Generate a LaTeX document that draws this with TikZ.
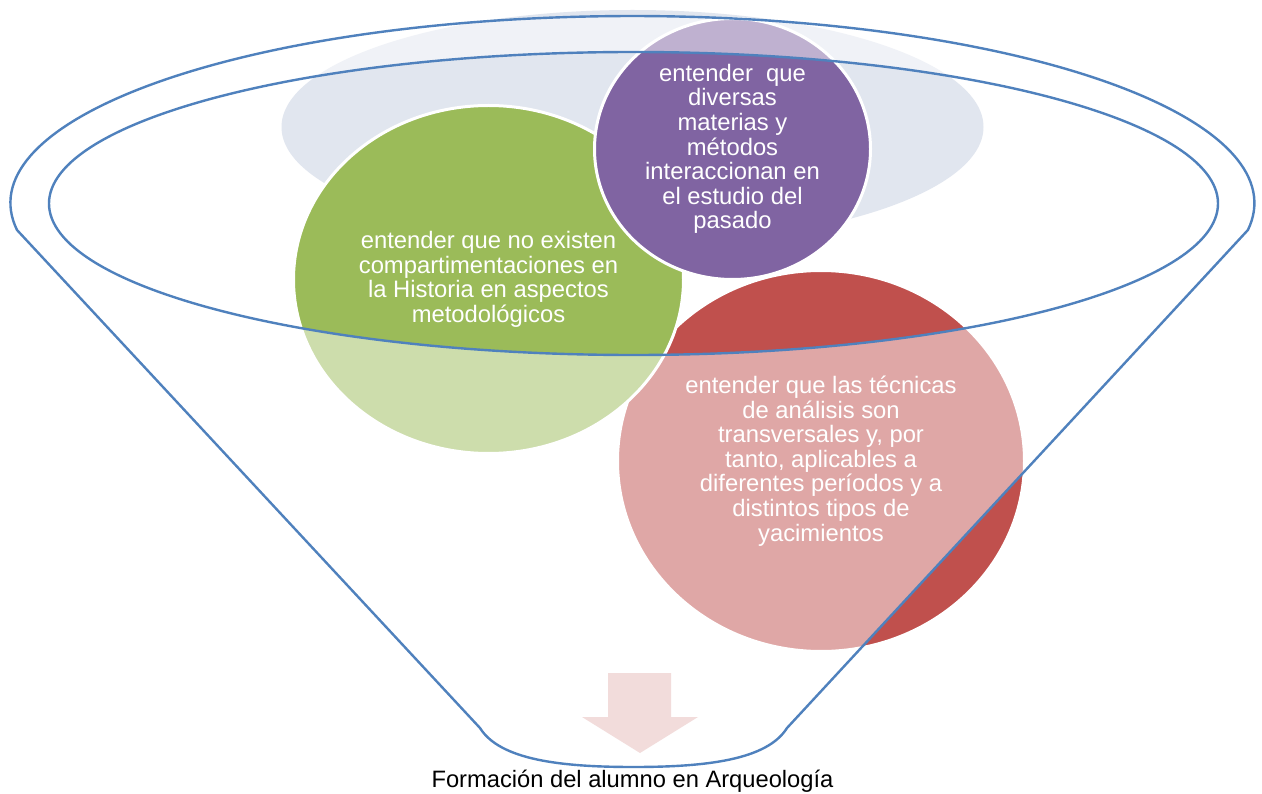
\documentclass[tikz,border=0pt]{standalone}
\usepackage{fontspec}
\setmainfont{Liberation Sans}
\usetikzlibrary{shapes.geometric}
\definecolor{funnelblue}{HTML}{4F81BD}
\definecolor{greenc}{HTML}{9BBB59}
\definecolor{purplec}{HTML}{8064A2}
\definecolor{redc}{HTML}{C0504D}
\definecolor{backgray}{HTML}{E1E6EF}
\definecolor{arrowc}{HTML}{E5B9B7}
\begin{document}
\begin{tikzpicture}[x=1pt,y=1pt,
  bubble/.style={ellipse, draw=white, line width=3pt, inner sep=0pt, text=white,
    font=\fontsize{23.8}{24.6}\selectfont, align=center},
  funnelline/.style={draw=funnelblue, line width=2.4pt},
  labelfont/.style={font=\fontsize{23.7}{26}\selectfont}]
\useasboundingbox (0,0) rectangle (1262,-794);
\fill[white] (0,0) rectangle (1262,-794);
% background ellipse
\node[ellipse, fill=backgray, minimum width=702pt, minimum height=234pt, inner sep=0pt] (back) at (632.5,-127) {};
% circles
\node[bubble, fill=redc, minimum width=407pt, minimum height=381pt] (red) at (821,-461)
  {entender que las técnicas\\de análisis son\\transversales y, por\\tanto, aplicables a\\diferentes períodos y a\\distintos tipos de\\yacimientos};
\node[bubble, fill=greenc, minimum width=390pt, minimum height=348pt] (green) at (488.5,-279.5)
  {entender que no existen\\compartimentaciones en\\la Historia en aspectos\\metodológicos};
\node[bubble, fill=purplec, minimum width=276pt, minimum height=261pt] (purple) at (732.5,-149)
  {entender\ \ que\\diversas\\materias y\\métodos\\interaccionan en\\el estudio del\\pasado};
% arrow
\fill[arrowc] (608,-673) -- (671,-673) -- (671,-717) -- (698,-717) -- (640,-753) -- (582,-717) -- (608,-717) -- cycle;
% funnel translucent body
\fill[white, fill opacity=0.5, even odd rule]
  (17,-230) arc[start angle=188.3, end angle=-8.3, x radius=622, y radius=187]
  -- (787,-728) .. controls (767,-760) and (706,-767) .. (633.5,-767)
  .. controls (561,-767) and (500,-760) .. (480,-728) -- cycle
  (633.5,-203.5) ellipse [x radius=584.5, y radius=151.5];
% funnel outlines
\draw[funnelline]
  (17,-230) arc[start angle=188.3, end angle=-8.3, x radius=622, y radius=187]
  -- (787,-728) .. controls (767,-760) and (706,-767) .. (633.5,-767)
  .. controls (561,-767) and (500,-760) .. (480,-728) -- cycle;
\node[ellipse, funnelline, minimum width=1169pt, minimum height=303pt, inner sep=0pt] (mouth) at (633.5,-203.5) {};
% label
\node[labelfont, anchor=base, inner sep=0pt] (result) at (632.5,-787) {Formación del alumno en Arqueología};
\end{tikzpicture}
\end{document}
